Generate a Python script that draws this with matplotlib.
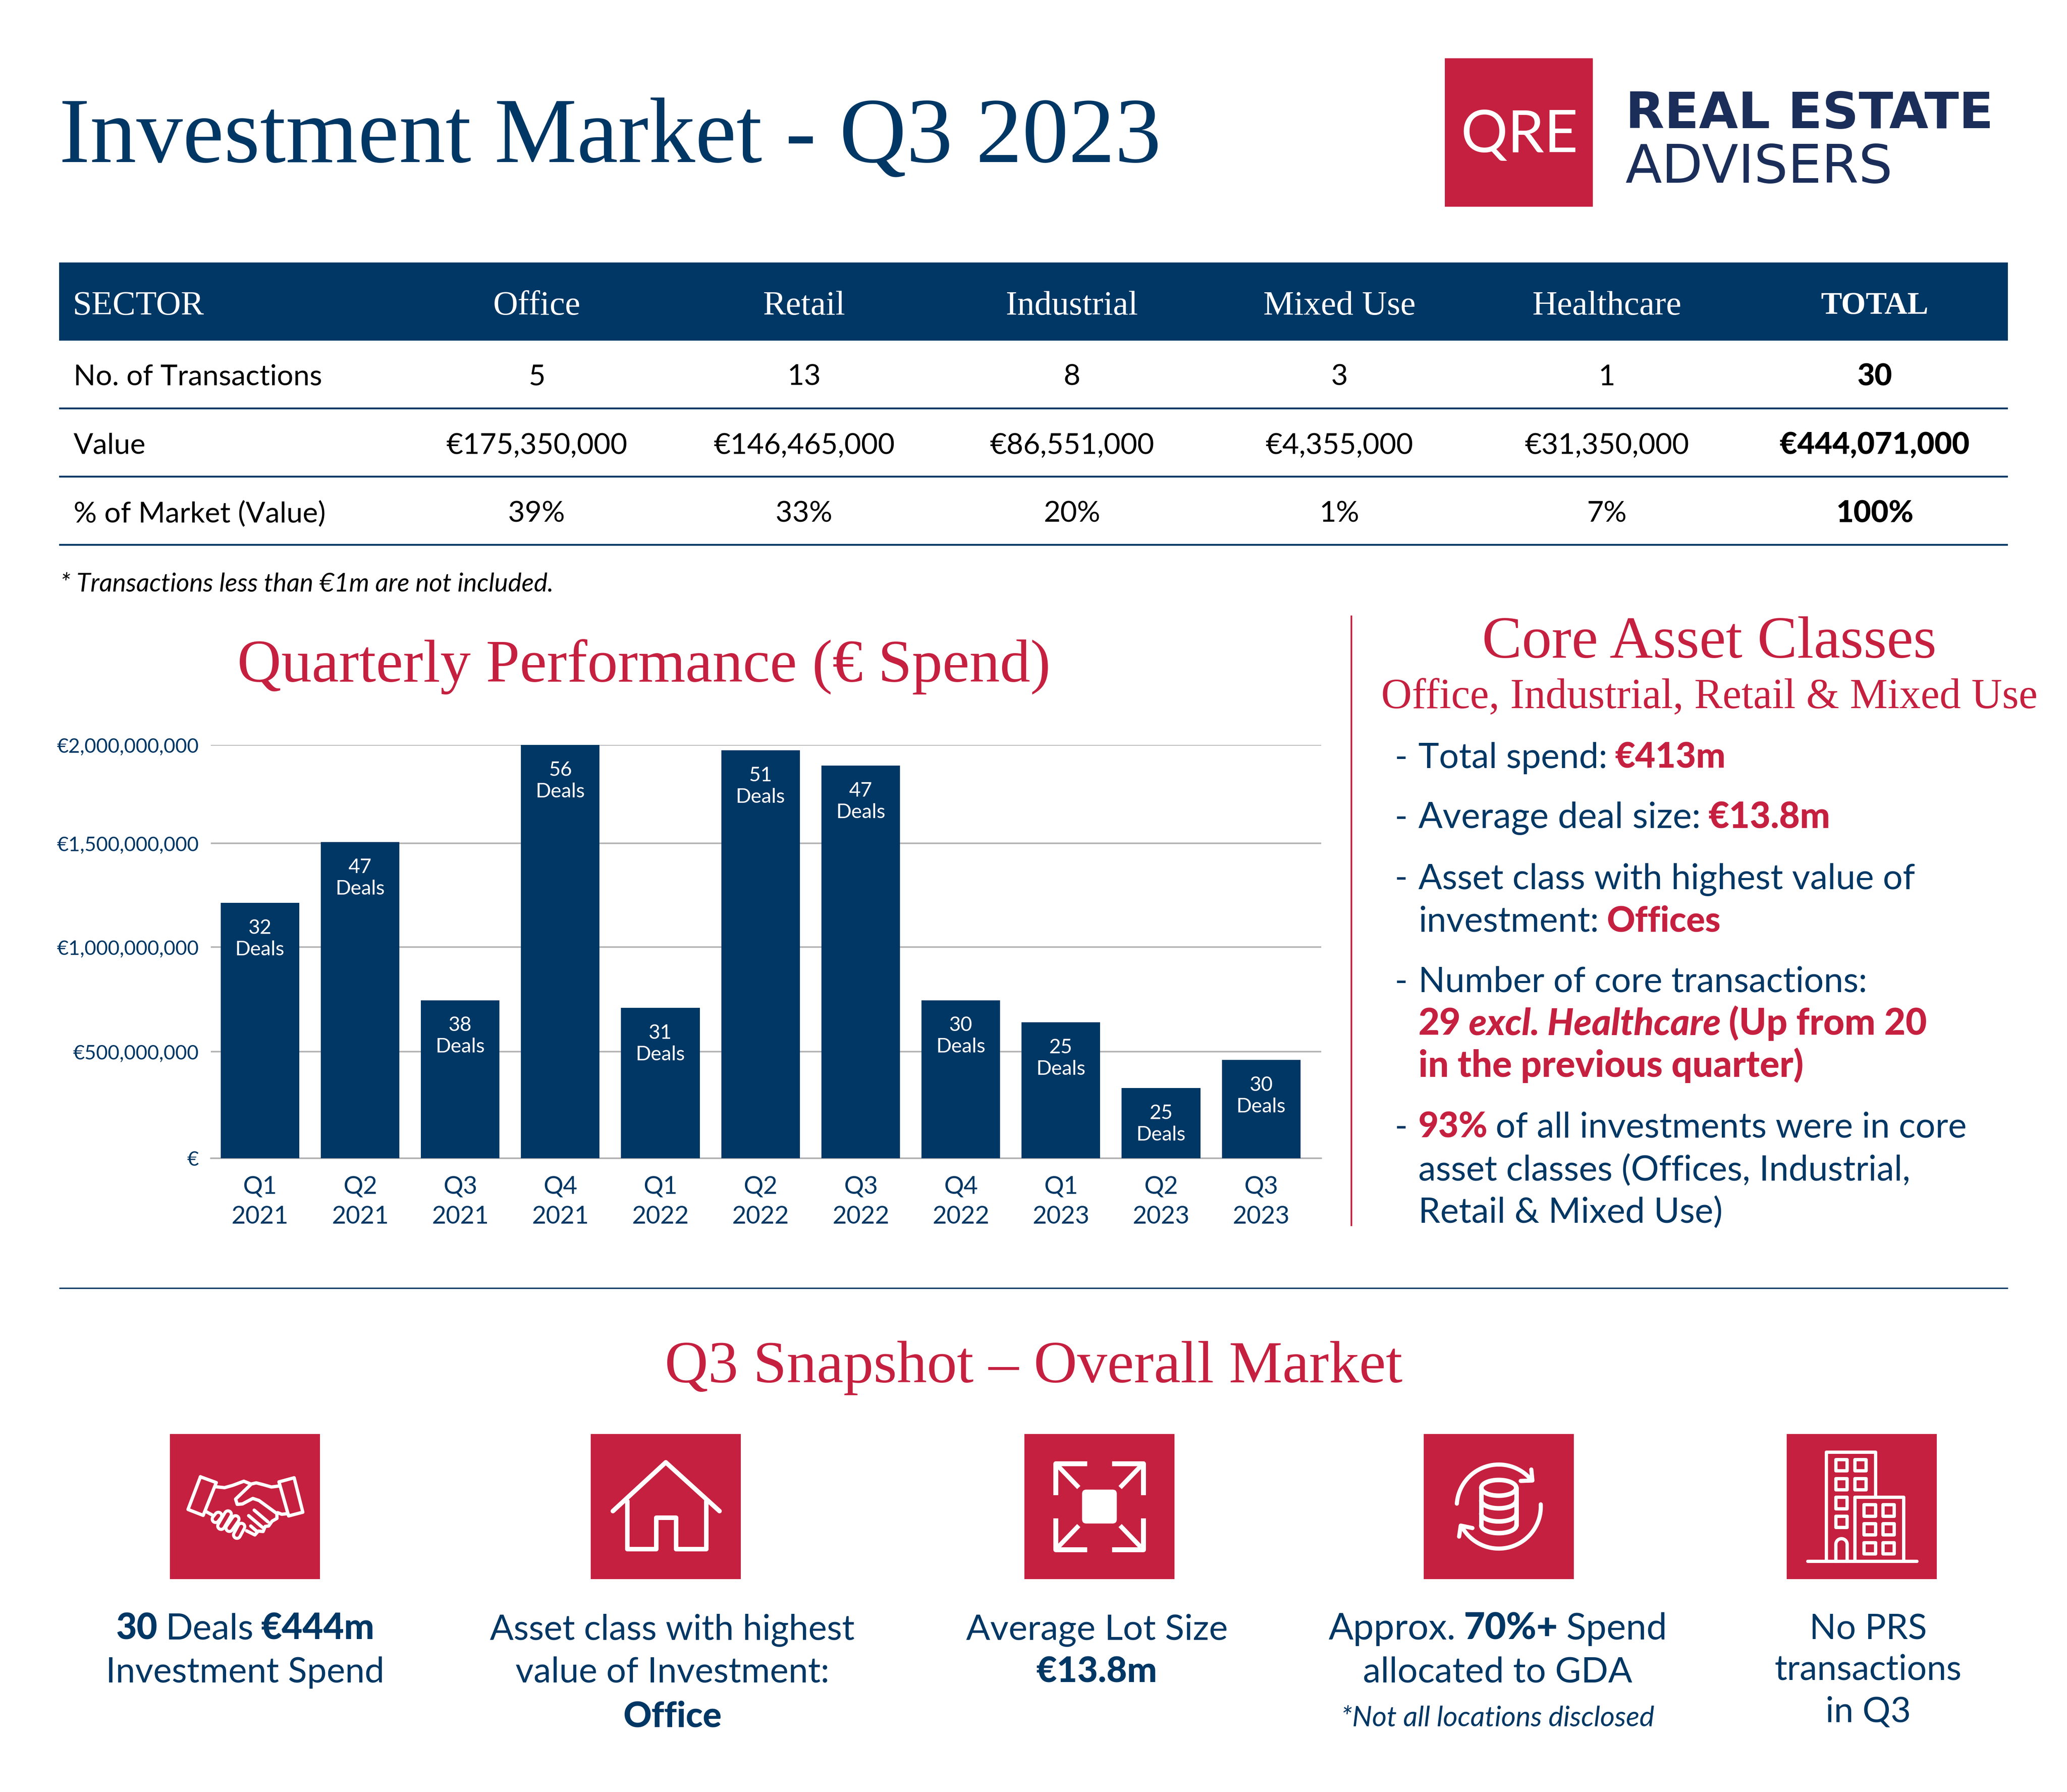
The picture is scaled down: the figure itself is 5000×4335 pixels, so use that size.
#!/usr/bin/env python3
import numpy as np
import matplotlib
matplotlib.use("Agg")
import matplotlib.pyplot as plt
from matplotlib.patches import Rectangle, FancyBboxPatch
from matplotlib.scale import FuncScale

NAVY = "#003764"
RED = "#c5203f"
LOGO_NAVY = "#1b2e5a"
GRID = "#b0b0b0"
SERIF = "Liberation Serif"
SANS = "Lato"
HEAVY = 900

# table
sectors = ["Office", "Retail", "Industrial", "Mixed Use", "Healthcare"]
row_labels = ["No. of Transactions", "Value", "% of Market (Value)"]
transactions = ["5", "13", "8", "3", "1"]
values = ["€175,350,000", "€146,465,000", "€86,551,000", "€4,355,000", "€31,350,000"]
shares = ["39%", "33%", "20%", "1%", "7%"]
totals = ["30", "€444,071,000", "100%"]

# bar chart
quarters = ["Q1\n2021", "Q2\n2021", "Q3\n2021", "Q4\n2021", "Q1\n2022", "Q2\n2022",
            "Q3\n2022", "Q4\n2022", "Q1\n2023", "Q2\n2023", "Q3\n2023"]
spend = [1213e6, 1506e6, 746e6, 2000e6, 710e6, 1972e6, 1895e6, 746e6, 640e6, 330e6, 461e6]
deals = [32, 47, 38, 56, 31, 51, 47, 30, 25, 25, 30]
y_ticks = [0, 500e6, 1000e6, 1500e6, 2000e6]
y_tick_labels = ["€", "€500,000,000", "€1,000,000,000", "€1,500,000,000", "€2,000,000,000"]
# the gridlines in the source are not evenly spaced
tick_pixels = [0, 258, 511, 762, 1000]

W, H = 5000, 4335
fig = plt.figure(figsize=(W / 100, H / 100), dpi=100, facecolor="white")
page = fig.add_axes([0, 0, 1, 1])
page.set_xlim(0, W)
page.set_ylim(H, 0)
page.axis("off")


def txt(x, y, s, size, color=NAVY, ha="left", va="center", weight="normal", style="normal", family=SANS):
    return page.text(x, y, s, fontsize=size, color=color, ha=ha, va=va, weight=weight,
                     style=style, family=family)


def runs(x, y, parts, size):
    # parts of one line in different styles, placed one after the other on a common baseline
    renderer = fig.canvas.get_renderer()
    for s, color, weight, style in parts:
        t = txt(x, y, s, size, color=color, weight=weight, style=style, va="baseline")
        x = t.get_window_extent(renderer).x1 + size * 0.3


def runs_centered(cx, y, parts, size):
    renderer = fig.canvas.get_renderer()
    total = 0
    for s, color, weight, style in parts:
        t = txt(0, y, s, size, color=color, weight=weight, style=style, va="baseline")
        total += t.get_window_extent(renderer).width + size * 0.3
        t.remove()
    runs(cx - (total - size * 0.3) / 2, y, parts, size)


def line(xs, ys, lw=8, color="white", cap="round"):
    # lw in picture pixels
    page.plot(xs, ys, color=color, lw=lw * 0.72, solid_capstyle=cap, solid_joinstyle="round")


def icon_line(cx, cy, pts, c, lw=8, color="white"):
    # pts measured on a 3x crop, c is the square centre on that crop
    pts = np.array(pts, dtype=float)
    line(cx + (pts[:, 0] - c[0]) / 3, cy + (pts[:, 1] - c[1]) / 3, lw=lw, color=color)


# header
txt(143, 338, "Investment Market - Q3 2023", 161.5, family=SERIF)
page.add_patch(Rectangle((3495, 141), 358, 359, fc=RED, ec="none"))
txt(3675, 328, "QRE", 102, color="white", ha="center")
txt(3932, 276, "REAL ESTATE", 88, color=LOGO_NAVY, weight="bold", family="DejaVu Sans")
txt(3932, 406, "ADVISERS", 93, color=LOGO_NAVY, family="DejaVu Sans")

# table
col_x = [1298, 1945, 2593, 3240, 3887, 4535]
row_y = [912, 1078, 1243]
rule_y = [988, 1153, 1318]
page.add_patch(Rectangle((143, 635), 4714, 189, fc=NAVY, ec="none"))
txt(175, 741, "SECTOR", 60, color="white", family=SERIF)
for x, s in zip(col_x, sectors):
    txt(x, 741, s, 60, color="white", ha="center", family=SERIF)
txt(col_x[5], 741, "TOTAL", 55, color="white", ha="center", weight="bold", family=SERIF)
rows = [transactions, values, shares]
for i, y in enumerate(row_y):
    txt(178, y, row_labels[i], 50.5, color="black")
    for x, s in zip(col_x, rows[i]):
        txt(x, y, s, 50.5, color="black", ha="center")
    txt(col_x[5], y, totals[i], 52.7, color="black", ha="center", weight=HEAVY)
    page.plot([143, 4857], [rule_y[i], rule_y[i]], color=NAVY, lw=3.2, solid_capstyle="butt")
txt(146, 1413, "* Transactions less than €1m are not included.", 44.7, color="black", style="italic")

# bar chart
left, right, bottom, top = 510, 3196, 2802, 1802
ax = fig.add_axes([left / W, 1 - bottom / H, (right - left) / W, (bottom - top) / H])
ax.set_yscale(FuncScale(ax.yaxis, (lambda v: np.interp(v, y_ticks, tick_pixels),
                                   lambda p: np.interp(p, tick_pixels, y_ticks))))
ax.set_facecolor("none")
x_pos = np.arange(len(quarters))
ax.bar(x_pos, spend, width=0.785, color=NAVY, zorder=3)
ax.set_xlim(-0.49, 10.6)
ax.set_ylim(0, 2000e6)
ax.set_yticks(y_ticks)
ax.set_yticklabels(y_tick_labels, fontsize=35, color=NAVY, family=SANS)
ax.set_xticks(x_pos)
ax.set_xticklabels(quarters, fontsize=43, color=NAVY, family=SANS, linespacing=1.42)
ax.tick_params(axis="both", length=0)
ax.tick_params(axis="y", pad=21)
ax.tick_params(axis="x", pad=30)
ax.grid(axis="y", color=GRID, lw=2.6, zorder=0)
for s in ["top", "right", "left"]:
    ax.spines[s].set_visible(False)
ax.spines["bottom"].set_color(GRID)
ax.spines["bottom"].set_linewidth(2.6)
for x, v, d in zip(x_pos, spend, deals):
    ax.annotate(f"{d}\nDeals", (x, v), xytext=(0, -28), textcoords="offset points", ha="center", va="top",
                fontsize=35, color="white", family=SANS, linespacing=1.22, zorder=4)

txt(1558, 1613, "Quarterly Performance (€ Spend)", 106, color=RED, ha="center", family=SERIF)

# core asset classes
page.plot([3269, 3269], [1489, 2966], color=RED, lw=2.8, solid_capstyle="butt")
txt(4135, 1557, "Core Asset Classes", 104, color=RED, ha="center", family=SERIF)
txt(4135, 1687, "Office, Industrial, Retail & Mixed Use", 74, color=RED, ha="center", family=SERIF)

N = (NAVY, "normal", "normal")
R = (RED, HEAVY, "normal")
RI = (RED, HEAVY, "italic")
bx = 3431
panel_lines = [
    (1858, True, 61, [("Total spend:",) + N, ("€413m",) + R]),
    (2003, True, 62.5, [("Average deal size:",) + N, ("€13.8m",) + R]),
    (2150, True, 61, [("Asset class with highest value of",) + N]),
    (2253, False, 61, [("investment:",) + N, ("Offices",) + R]),
    (2400, True, 61, [("Number of core transactions:",) + N]),
    (2503, False, 64, [("29",) + R, ("excl. Healthcare",) + RI, ("(Up from 20",) + R]),
    (2605, False, 64, [("in the previous quarter)",) + R]),
    (2752, True, 61, [("93%",) + R, ("of all investments were in core",) + N]),
    (2855, False, 61, [("asset classes (Offices, Industrial,",) + N]),
    (2957, False, 61, [("Retail & Mixed Use)",) + N]),
]
for y, dash, size, parts in panel_lines:
    if dash:
        txt(3374, y, "-", 61, va="baseline")
    runs(bx, y, parts, size)

# snapshot
page.plot([143, 4857], [3116, 3116], color=NAVY, lw=2.4, solid_capstyle="butt")
txt(2500, 3309, "Q3 Snapshot – Overall Market", 104.7, color=RED, ha="center", family=SERIF)

sq_left = [411, 1429, 2478, 3444, 4322]
SQ_W, SQ_H = 363, 351
SQ_T = 3469
for x in sq_left:
    page.add_patch(Rectangle((x, SQ_T), SQ_W, SQ_H, fc=RED, ec="none"))
centers = [x + SQ_W / 2 for x in sq_left]
cy = SQ_T + SQ_H / 2

# handshake
cx = centers[0]
c = (728, 584)
icon_line(cx, cy, [(405, 368), (520, 410), (425, 648), (315, 605), (405, 368)], c)
icon_line(cx, cy, [(975, 405), (1085, 375), (1148, 625), (1045, 652), (975, 405)], c)
icon_line(cx, cy, [(515, 440), (580, 447), (640, 430), (720, 400), (770, 420)], c)
icon_line(cx, cy, [(975, 435), (920, 442), (860, 425), (810, 412), (775, 420), (660, 530), (672, 568),
                   (710, 565), (785, 525), (830, 540), (960, 635), (960, 670), (925, 690),
                   (900, 725), (875, 728), (860, 765), (825, 762), (800, 790), (740, 760)], c)
icon_line(cx, cy, [(795, 610), (895, 695)], c)
icon_line(cx, cy, [(755, 650), (855, 735)], c)
icon_line(cx, cy, [(770, 725), (810, 760)], c)
icon_line(cx, cy, [(965, 628), (995, 640), (1040, 635)], c)
icon_line(cx, cy, [(445, 620), (490, 645)], c)
for seg in [[(515, 675), (535, 650)], [(555, 725), (605, 640)], [(615, 740), (660, 675)], [(670, 790), (702, 730)]]:
    icon_line(cx, cy, seg, c, lw=24)
    icon_line(cx, cy, seg, c, lw=9, color=RED)

# house
cx = centers[1]
line(cx + np.array([-128, 0, 130]), cy + np.array([11, -107, 11]), lw=11)
line(cx + np.array([-94, -94, -24, -24, 24, 24, 97, 97]), cy + np.array([-14, 102, 102, 26, 26, 102, 102, -14]), lw=11)

# expand arrows
cx = centers[2]
page.add_patch(FancyBboxPatch((cx - 42, cy - 41), 84, 82, boxstyle="round,pad=0,rounding_size=10", fc="white", ec="none"))
for sx in (-1, 1):
    for sy in (-1, 1):
        line(cx + sx * np.array([106, 106, 30]), cy + sy * np.array([28, 104, 104]), lw=12, cap="butt")
        line(cx + sx * np.array([100, 50]), cy + sy * np.array([98, 46]), lw=11, cap="butt")

# database in rotating arrows
cx = centers[3]
c = (616, 584)
t = np.linspace(0, 2 * np.pi, 80)
icon_line(cx, cy, np.column_stack([616 + 127 * np.cos(t), 448 + 57 * np.sin(t)]), c, lw=11)
t = np.linspace(0, np.pi, 40)
for mid in (540, 635, 720):
    icon_line(cx, cy, np.column_stack([616 + 127 * np.cos(t), mid + 57 * np.sin(t)]), c, lw=11)
icon_line(cx, cy, [(489, 448), (489, 720)], c, lw=11)
icon_line(cx, cy, [(743, 448), (743, 720)], c, lw=11)
t = np.radians(np.linspace(184, 320, 50))
icon_line(cx, cy, np.column_stack([616 + 305 * np.cos(t), 584 + 305 * np.sin(t)]), c, lw=10)
t = np.radians(np.linspace(-3, 149, 50))
icon_line(cx, cy, np.column_stack([616 + 305 * np.cos(t), 584 + 305 * np.sin(t)]), c, lw=10)
icon_line(cx, cy, [(775, 398), (860, 395), (852, 315)], c, lw=10)
icon_line(cx, cy, [(425, 740), (340, 722), (328, 802)], c, lw=10)

# building
cx = centers[4]
c = (611, 584)
icon_line(cx, cy, [(220, 982), (1010, 982)], c, lw=8)
icon_line(cx, cy, [(355, 982), (355, 190), (710, 190), (710, 515)], c, lw=8)
icon_line(cx, cy, [(560, 982), (560, 517), (915, 517), (915, 982)], c, lw=8)
t = np.radians(np.linspace(180, 360, 20))
door = [(423, 982)] + [(464 + 41 * np.cos(a), 858 + 41 * np.sin(a)) for a in t] + [(505, 982)]
icon_line(cx, cy, door, c, lw=8)
windows = [(423, wy) for wy in (243, 380, 517, 654)] + [(561, wy) for wy in (243, 380)]
windows += [(wx, wy) for wx in (628, 765) for wy in (571, 708, 845)]
for wx, wy in windows:
    page.add_patch(Rectangle((cx + (wx - c[0]) / 3, cy + (wy - c[1]) / 3), 82 / 3, 82 / 3, fc="none", ec="white",
                             lw=5.8, joinstyle="round"))

# captions
FOOT = 61
c = 186 * 3.189
runs_centered(c, 3966, [("30", NAVY, HEAVY, "normal"), ("Deals", NAVY, "normal", "normal"), ("€444m", NAVY, HEAVY, "normal")], 62.5)
txt(c, 4070, "Investment Spend", FOOT, ha="center", va="baseline")
c = 510 * 3.189
txt(c, 3966, "Asset class with highest", FOOT, ha="center", va="baseline")
txt(c, 4070, "value of Investment:", FOOT, ha="center", va="baseline")
txt(c, 4177, "Office", FOOT, ha="center", va="baseline", weight=HEAVY)
c = 832 * 3.189
txt(c, 3966, "Average Lot Size", 62, ha="center", va="baseline")
txt(c, 4070, "€13.8m", 62, ha="center", va="baseline", weight=HEAVY)
c = 1136 * 3.189
runs_centered(c, 3966, [("Approx.", NAVY, "normal", "normal"), ("70%+", NAVY, HEAVY, "normal"), ("Spend", NAVY, "normal", "normal")], 64)
txt(c, 4070, "allocated to GDA", 62, ha="center", va="baseline")
txt(c, 4175, "*Not all locations disclosed", 49, ha="center", va="baseline", style="italic")
c = 1417 * 3.189
txt(c, 3966, "No PRS", FOOT, ha="center", va="baseline")
txt(c, 4063, "transactions", FOOT, ha="center", va="baseline")
txt(c, 4165, "in Q3", FOOT, ha="center", va="baseline")

fig.savefig("out.png", dpi=100, facecolor="white")
